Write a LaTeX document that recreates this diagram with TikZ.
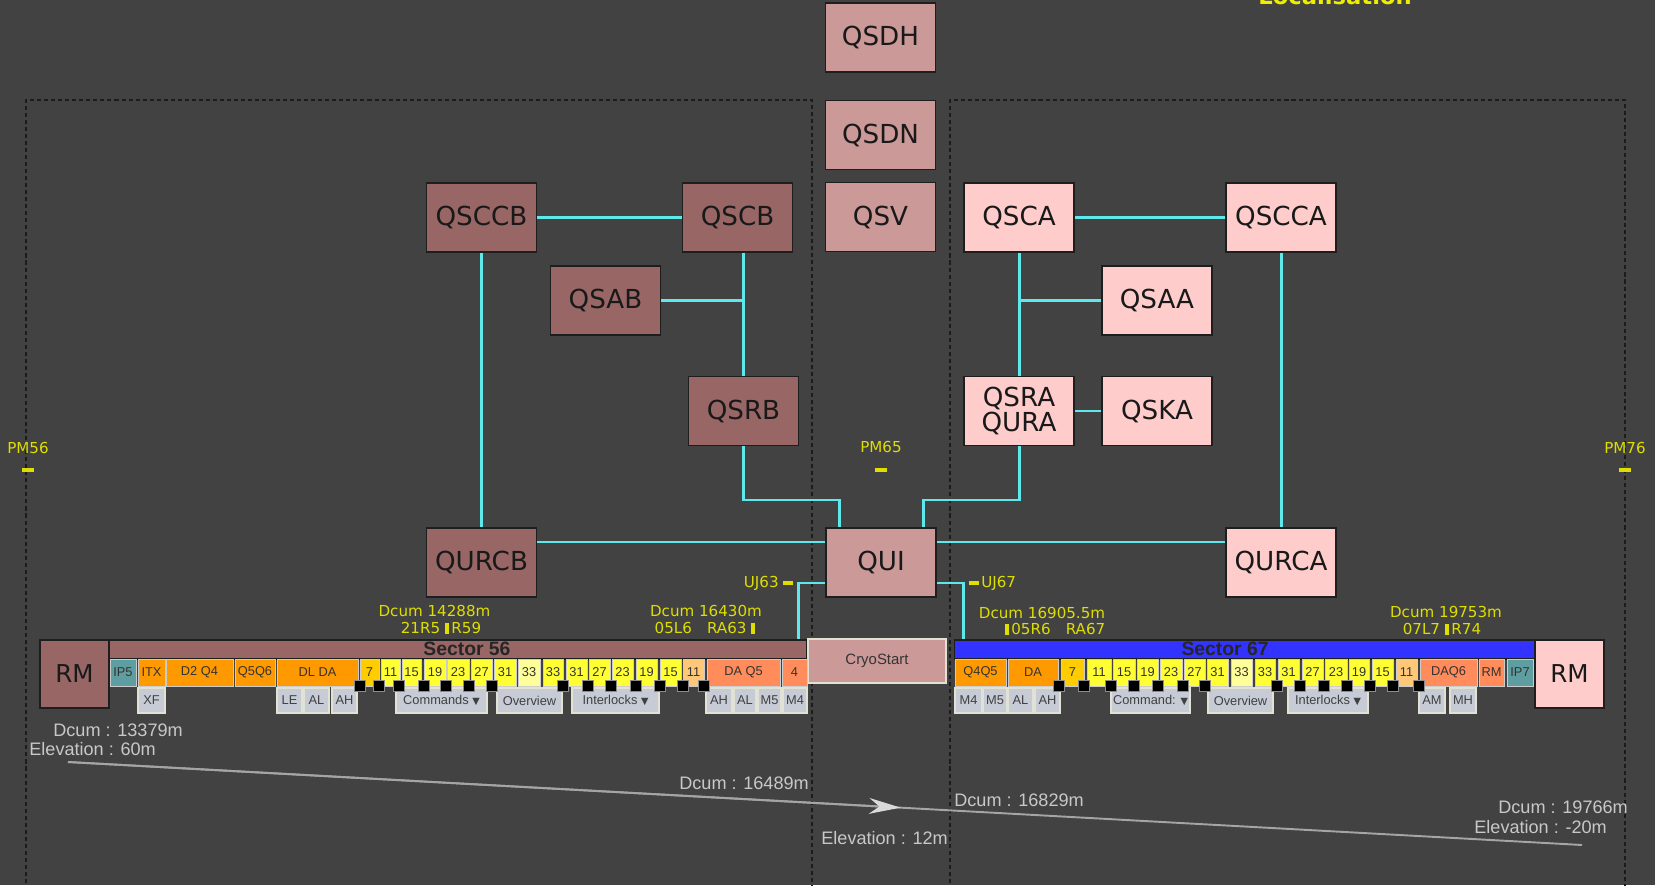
\documentclass[tikz,border=0pt]{standalone}
\usepackage{fontspec}
\setmainfont{DejaVu Sans}
\newfontfamily\cellfont{Liberation Sans}
\usetikzlibrary{arrows.meta,calc}

\definecolor{bgdark}{RGB}{66,66,66}
\definecolor{roseB}{RGB}{153,102,102}
\definecolor{roseM}{RGB}{204,153,153}
\definecolor{roseA}{RGB}{255,204,204}
\definecolor{boxedge}{RGB}{30,30,30}
\definecolor{linkcyan}{RGB}{94,232,235}
\definecolor{labyellow}{RGB}{222,222,0}
\definecolor{loctitle}{RGB}{238,238,0}
\definecolor{graytext}{RGB}{200,200,200}
\definecolor{profgray}{RGB}{165,165,165}
\definecolor{framedark}{RGB}{28,28,28}
\definecolor{ipteal}{RGB}{95,158,160}
\definecolor{magorange}{RGB}{255,153,0}
\definecolor{gold7}{RGB}{255,204,0}
\definecolor{cellyellow}{RGB}{255,255,51}
\definecolor{paleyellow}{RGB}{255,255,153}
\definecolor{paleorange}{RGB}{255,200,120}
\definecolor{salmon}{RGB}{255,140,90}
\definecolor{sectorblue}{RGB}{51,51,255}
\definecolor{btnfill}{RGB}{198,203,214}
\definecolor{btnedge}{RGB}{225,225,212}

\newcommand{\barmark}{\rule[-0.4pt]{2.3pt}{6.2pt}}
\newcommand{\dropmark}{{\rmfamily\fontsize{5.5}{6}\selectfont ▼}}

\begin{document}
\begin{tikzpicture}[
    x=0.02cm, y=-0.02cm,
    cyanlink/.style={draw=linkcyan, line width=1.7pt},
    zoneframe/.style={draw=framedark, line width=0.85pt, dash pattern=on 2.3pt off 1.7pt},
    qbox/.style={draw=boxedge, line width=0.85pt, minimum width=2.2cm, minimum height=1.38cm,
                 inner sep=0pt, text=black!90, align=center, font=\fontsize{14.9}{14.7}\selectfont},
    rmbox/.style={draw=boxedge, line width=0.85pt, minimum width=1.38cm, minimum height=1.36cm,
                  inner sep=0pt, text=black!90, font=\fontsize{14}{15}\selectfont},
    header/.style={draw=boxedge, line width=0.6pt, minimum height=0.38cm, inner sep=0pt},
    headtext/.style={text=black!85, font=\cellfont\bfseries\fontsize{11}{12}\selectfont},
    cell/.style={draw=black!20, line width=0.5pt, minimum height=0.54cm, inner sep=0pt,
                 text=black!80, font=\cellfont\fontsize{7.3}{8}\selectfont},
    btn/.style={draw=btnedge, fill=btnfill, line width=0.6pt, minimum height=0.5cm, inner sep=0pt,
                text=black!75, font=\cellfont\fontsize{7.3}{8}\selectfont},
    valvesq/.style={fill=black, draw=black!45, line width=0.5pt, minimum size=0.23cm, inner sep=0pt},
    ylab/.style={text=labyellow, inner sep=0pt, font=\fontsize{8.6}{10}\selectfont},
    ymark/.style={fill=labyellow, inner sep=0pt, minimum height=0.08cm},
    glab/.style={text=graytext, inner sep=0pt, anchor=west, font=\cellfont\fontsize{10.3}{12}\selectfont},
    profile/.style={draw=profgray, line width=1.1pt},
  ]
  \fill[bgdark] (0,0) rectangle (1655,885);
  \useasboundingbox (0,0) rectangle (1655,885);

  \node[anchor=base west, inner sep=0pt, text=loctitle,
        font=\bfseries\fontsize{12.9}{14}\selectfont] (loc) at (1258,4.5) {Localisation};

  % zones
  \draw[zoneframe] (26,890) -- (26,100) -- (812,100) -- (812,890);
  \draw[zoneframe] (950,890) -- (950,100) -- (1625,100) -- (1625,890);

  % point markers
  \node[ylab] (pm56) at (28,448) {PM56};
  \node[ylab] (pm65) at (881,447) {PM65};
  \node[ylab] (pm76) at (1625,448) {PM76};
  \node[ymark, minimum width=0.24cm] (pm56d) at (28,470) {};
  \node[ymark, minimum width=0.24cm] (pm65d) at (881,470) {};
  \node[ymark, minimum width=0.24cm] (pm76d) at (1625,470) {};

  % control boxes
  \node[qbox, fill=roseM] (qsdh) at (880.5,37.5) {QSDH};
  \node[qbox, fill=roseM] (qsdn) at (880.5,135) {QSDN};
  \node[qbox, fill=roseM] (qsv) at (880.5,217) {QSV};
  \node[qbox, fill=roseM] (qui) at (881,562.5) {QUI};
  \node[qbox, fill=roseB] (qsccb) at (481.5,217.5) {QSCCB};
  \node[qbox, fill=roseB] (qscb) at (737.5,217.5) {QSCB};
  \node[qbox, fill=roseB] (qsab) at (605.5,300.5) {QSAB};
  \node[qbox, fill=roseB] (qsrb) at (743.5,411) {QSRB};
  \node[qbox, fill=roseB] (qurcb) at (481.5,562.5) {QURCB};
  \node[qbox, fill=roseA] (qsca) at (1019,217.5) {QSCA};
  \node[qbox, fill=roseA] (qscca) at (1281,217.5) {QSCCA};
  \node[qbox, fill=roseA] (qsaa) at (1157,300.5) {QSAA};
  \node[qbox, fill=roseA] (qsra) at (1019,411) {QSRA\\QURA};
  \node[qbox, fill=roseA] (qska) at (1157,411) {QSKA};
  \node[qbox, fill=roseA] (qurca) at (1281,562.5) {QURCA};

  % sector bars
  \node[header, fill=roseB, minimum width=13.96cm] (sec56) at (458,649.5) {};
  \node[header, fill=sectorblue, minimum width=11.62cm] (sec67) at (1244.5,649.5) {};
  \node[headtext] (sec56t) at (467,649) {Sector 56};
  \node[headtext] (sec67t) at (1225,649) {Sector 67};
  \node[rmbox, fill=roseB] (rm56) at (74.5,674) {RM};
  \node[rmbox, fill=roseA] (rm67) at (1569.5,674) {RM};
  \node[draw=btnedge, line width=0.8pt, fill=roseM, minimum width=2.76cm, minimum height=0.88cm,
        inner sep=0pt, text=black!80, font=\cellfont\fontsize{8.5}{10}\selectfont] (cryo) at (877,661) {CryoStart};

  % links
  \draw[cyanlink] (qsccb.east) -- (qscb.west);
  \draw[cyanlink] (qscb.south -| qsrb.north) -- (qsrb.north);
  \draw[cyanlink] (qsab.east) -- (qsab.east -| qsrb.north);
  \draw[cyanlink] (qsccb.south) -- (qurcb.north);
  \coordinate (bendB) at (839,500);
  \coordinate (bendA) at (923,500);
  \draw[cyanlink] (qsrb.south) |- (bendB) -- (bendB |- qui.north);
  \draw[cyanlink] (qsra.south) |- (bendA) -- (bendA |- qui.north);
  \coordinate (bus) at (0,542);
  \draw[cyanlink] (qurcb.east |- bus) -- (qui.west |- bus);
  \draw[cyanlink] (qui.east |- bus) -- (qurca.west |- bus);
  \draw[cyanlink] (qsca.east) -- (qscca.west);
  \draw[cyanlink] (qsca.south) -- (qsra.north);
  \draw[cyanlink] (qsaa.west) -- (qsaa.west -| qsca.south);
  \draw[cyanlink] (qsra.east) -- (qska.west);
  \draw[cyanlink] (qscca.south) -- (qurca.north);
  \coordinate (uj63) at (798,583);
  \coordinate (uj67) at (963,583);
  \draw[cyanlink] (qui.west |- uj63) -| (sec56.north -| uj63);
  \draw[cyanlink] (qui.east |- uj67) -| (sec67.north -| uj67);
  \node[ymark, minimum width=0.2cm] (uj63d) at (788,583) {};
  \node[ymark, minimum width=0.2cm] (uj67d) at (973.5,583) {};
  \node[ylab, anchor=east] (uj63t) at (779,583) {UJ63};
  \node[ylab, anchor=west] (uj67t) at (981,583) {UJ67};

  % dcum labels
  \node[ylab] (d56a) at (434.5,611) {Dcum 14288m};
  \node[ylab] (d56b) at (441,628) {21R5 \barmark\,R59};
  \node[ylab] (d56c) at (706,611) {Dcum 16430m};
  \node[ylab] (d56d) at (705,628) {05L6\quad RA63 \barmark};
  \node[ylab] (d67a) at (1042,613) {Dcum 16905.5m};
  \node[ylab] (d67b) at (1055,629) {\barmark\,05R6\quad RA67};
  \node[ylab] (d67c) at (1446,612) {Dcum 19753m};
  \node[ylab] (d67d) at (1442,629) {07L7 \barmark\,R74};

  % magnet cells
  \foreach \xa/\xb/\cf/\tx [count=\i] in {110/136/ipteal/IP5, 138/165/magorange/ITX,
      166/233/magorange/D2 Q4, 235/275/magorange/Q5Q6, 277/358/magorange/DL DA,
      360/379/gold7/7, 381/400/cellyellow/11, 402/421/cellyellow/15, 424/446/cellyellow/19,
      447/469/cellyellow/23, 471/492/cellyellow/27, 494/516/cellyellow/31, 518/540/paleyellow/33,
      543/563/cellyellow/33, 566/587/cellyellow/31, 589/610/cellyellow/27, 612/633/cellyellow/23,
      636/657/cellyellow/19, 660/681/cellyellow/15, 683/704/paleorange/11,
      707/780/salmon/DA Q5, 782/807/salmon/4}
    \node[cell, fill=\cf, minimum width={(\xb-\xa)*0.02cm}] (ca\i) at ({(\xa+\xb)/2},672.5) {\tx};
  \foreach \xa/\xb/\cf/\tx [count=\i] in {955/1006/magorange/Q4Q5, 1008/1058/magorange/DA,
      1061/1084/gold7/7, 1087/1111/cellyellow/11, 1113/1135/cellyellow/15, 1137/1158/cellyellow/19,
      1160/1182/cellyellow/23, 1184/1205/cellyellow/27, 1207/1228/cellyellow/31,
      1231/1252/paleyellow/33, 1255/1275/cellyellow/33, 1278/1299/cellyellow/31,
      1302/1323/cellyellow/27, 1325/1347/cellyellow/23, 1349/1369/cellyellow/19,
      1372/1393/cellyellow/15, 1396/1417/paleorange/11, 1420/1477/salmon/DAQ6,
      1479/1504/salmon/RM, 1507/1533/ipteal/IP7}
    \node[cell, fill=\cf, minimum width={(\xb-\xa)*0.02cm}] (cb\i) at ({(\xa+\xb)/2},672.5) {\tx};

  % buttons
  \foreach \xa/\xb/\tx [count=\i] in {138/165/XF, 277/302/LE, 304/329/AL, 332/357/AH,
      396/487/Commands \dropmark, 497/562/Overview, 572/659/Interlocks \dropmark,
      706/732/AH, 734/756/AL, 758/781/M5, 783/807/M4}
    \node[btn, minimum width={(\xb-\xa)*0.02cm}] (ba\i) at ({(\xa+\xb)/2},700.5) {\tx};
  \foreach \xa/\xb/\tx [count=\i] in {955/982/M4, 983/1007/M5, 1008/1033/AL, 1035/1060/AH,
      1111/1190/Command: \dropmark, 1208/1273/Overview, 1288/1368/Interlocks \dropmark,
      1419/1445/AM, 1450/1476/MH}
    \node[btn, minimum width={(\xb-\xa)*0.02cm}] (bb\i) at ({(\xa+\xb)/2},700.5) {\tx};

  % valves
  \foreach \sx [count=\i] in {360,379,399,424,446,469,492,563,588,611,636,660,683,704}
    \node[valvesq] (va\i) at (\sx,686) {};
  \foreach \sx [count=\i] in {1059,1084,1111,1134,1158,1183,1205,1277,1300,1324,1347,1370,1393,1419}
    \node[valvesq] (vb\i) at (\sx,686) {};

  % elevation profile
  \coordinate (elevA) at (68,762);
  \coordinate (elevB) at (1582,845);
  \draw[profile] (elevA) -- (elevB);
  \draw[profile, -{Stealth[length=18pt, width=9pt, color=black!15]}] (elevA) -- ($(elevA)!0.55!(elevB)$);
  \node[glab] (g1) at (53,730) {Dcum : 13379m};
  \node[glab] (g2) at (29,749) {Elevation : 60m};
  \node[glab] (g3) at (679,783) {Dcum : 16489m};
  \node[glab] (g4) at (954,800) {Dcum : 16829m};
  \node[glab] (g5) at (821,838) {Elevation : 12m};
  \node[glab] (g6) at (1498,807) {Dcum : 19766m};
  \node[glab] (g7) at (1474,827) {Elevation : -20m};
\end{tikzpicture}
\end{document}
